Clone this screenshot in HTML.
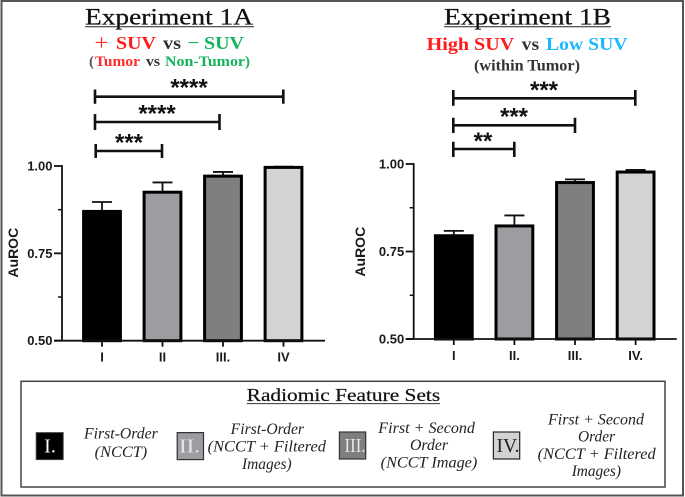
<!DOCTYPE html>
<html lang="en">
<head>
<meta charset="utf-8">
<title>Experiment 1A and 1B AuROC</title>
<style>
html,body{margin:0;padding:0;background:#fff;width:685px;height:497px;overflow:hidden}
svg{display:block;filter:blur(.35px)}
.serif{font-family:"Liberation Serif",serif}
.sans{font-family:"Liberation Sans",sans-serif}
.title{font-size:23px;fill:#111;stroke:#111;stroke-width:.25}
.sub{font-size:18px;font-weight:bold}
.sub2{font-size:15px;font-weight:bold}
.desc{font-size:15.5px;font-style:italic;fill:#222}
.tick{font-size:13px;font-weight:bold;fill:#1a1a1a}
.stars{font-size:24px;font-weight:bold;fill:#111;text-anchor:middle}
</style>
</head>
<body>
<svg id="figure" width="685" height="497" viewBox="0 0 685 497" xmlns="http://www.w3.org/2000/svg">
<rect x="1.5" y="1" width="681.5" height="494.5" fill="#fff" stroke="#555" stroke-width="2"/>

<g class="serif">
<text class="title" x="85" y="24.5" textLength="168" lengthAdjust="spacingAndGlyphs">Experiment 1A</text>
<line x1="85" x2="254" y1="26.8" y2="26.8" stroke="#222" stroke-width="1"/>
<text x="94.5" y="50" font-size="22" fill="#ff2a2a" textLength="14" lengthAdjust="spacingAndGlyphs">+</text>
<text class="sub" fill="#ff1a1a" x="116" y="49" textLength="40" lengthAdjust="spacingAndGlyphs">SUV</text>
<text class="sub" fill="#333" x="163" y="49" textLength="18" lengthAdjust="spacingAndGlyphs">vs</text>
<text x="187.5" y="50" font-size="22" fill="#14b35c" textLength="12" lengthAdjust="spacingAndGlyphs">−</text>
<text class="sub" fill="#14b35c" x="204" y="49" textLength="40" lengthAdjust="spacingAndGlyphs">SUV</text>
<text class="sub2" fill="#555" x="89" y="66">(</text>
<text class="sub2" fill="#ff2a2a" x="95" y="66" textLength="45" lengthAdjust="spacingAndGlyphs">Tumor</text>
<text class="sub2" fill="#333" x="146" y="66" textLength="14" lengthAdjust="spacingAndGlyphs">vs</text>
<text class="sub2" fill="#14b35c" x="165" y="66" textLength="80" lengthAdjust="spacingAndGlyphs">Non-Tumor</text>
<text class="sub2" fill="#14b35c" x="245" y="66">)</text>
</g>

<g class="serif">
<text class="title" x="444" y="24.5" textLength="167" lengthAdjust="spacingAndGlyphs">Experiment 1B</text>
<line x1="444" x2="611" y1="26.8" y2="26.8" stroke="#222" stroke-width="1"/>
<text class="sub" fill="#ff1a1a" x="426.7" y="50" textLength="87.5" lengthAdjust="spacingAndGlyphs">High SUV</text>
<text class="sub" fill="#333" x="521.7" y="50" textLength="17.5" lengthAdjust="spacingAndGlyphs">vs</text>
<text class="sub" fill="#1ab8ff" x="546" y="50" textLength="81.5" lengthAdjust="spacingAndGlyphs">Low SUV</text>
<text class="sub2" fill="#333" x="474" y="70.7" textLength="106" lengthAdjust="spacingAndGlyphs" style="font-size:16px">(within Tumor)</text>
</g>

<g stroke="#111" fill="none">
<path stroke-width="2.6" d="M95 96.7H283.3M95 89.5V103.7M283.3 89.5V103.7"/>
<path stroke-width="2.6" d="M95 122H219.5M95 114V130M219.5 114V130"/>
<path stroke-width="2.6" d="M95.7 151H162M95.7 144V158M162 144V158"/>
<text class="sans stars" stroke="none" x="189" y="95.5">****</text>
<text class="sans stars" stroke="none" x="157" y="121.5">****</text>
<text class="sans stars" stroke="none" x="129" y="150.5">***</text>
</g>

<g stroke="#111" fill="none">
<path stroke-width="2.6" d="M453.3 98.3H635.3M453.3 90V105.7M635.3 90V105.7"/>
<path stroke-width="2.6" d="M453.3 125.3H575M453.3 117.7V133M575 117.7V133"/>
<path stroke-width="2.6" d="M453.3 149H514.3M453.3 141.7V157M514.3 141.7V157"/>
<text class="sans stars" stroke="none" x="544" y="98.2">***</text>
<text class="sans stars" stroke="none" x="514" y="124.5">***</text>
<text class="sans stars" stroke="none" x="483" y="149.2">**</text>
</g>

<g id="chart-a"></g>
<g id="chart-b"></g>

<g class="serif">
<rect x="21" y="381.3" width="644" height="105.7" fill="#fff" stroke="#444" stroke-width="1.5"/>
<text x="246.7" y="401" font-size="18" fill="#111" stroke="#111" stroke-width=".2" textLength="193.5" lengthAdjust="spacingAndGlyphs">Radiomic Feature Sets</text>
<line x1="246.7" x2="440" y1="403.6" y2="403.6" stroke="#333" stroke-width="1"/>

<g>
<rect x="36.2" y="432.6" width="27" height="27" fill="#000" stroke="#444" stroke-width="1"/>
<text x="50" y="452.5" font-size="20" fill="#fff" text-anchor="middle">I.</text>
<text class="desc" x="84" y="438.7" textLength="73.7" lengthAdjust="spacingAndGlyphs">First-Order</text>
<text class="desc" x="94.7" y="457" textLength="52.5" lengthAdjust="spacingAndGlyphs">(NCCT)</text>
</g>

<g>
<rect x="177.2" y="432.6" width="26.3" height="27" fill="#9d9ca1" stroke="#333" stroke-width="1.2"/>
<text x="179" y="452.5" font-size="20" fill="#e8e8e8" textLength="21" lengthAdjust="spacingAndGlyphs">II.</text>
<text class="desc" x="230.7" y="434" textLength="73.3" lengthAdjust="spacingAndGlyphs">First-Order</text>
<text class="desc" x="207.7" y="451.7" textLength="118.3" lengthAdjust="spacingAndGlyphs">(NCCT + Filtered</text>
<text class="desc" x="242" y="469" textLength="49.7" lengthAdjust="spacingAndGlyphs">Images)</text>
</g>

<g>
<rect x="339.4" y="432" width="26.3" height="27" fill="#7f7f7f" stroke="#333" stroke-width="1.2"/>
<text x="344.5" y="452" font-size="20" fill="#e8e8e8" textLength="21" lengthAdjust="spacingAndGlyphs">III.</text>
<text class="desc" x="378.3" y="433" textLength="96.7" lengthAdjust="spacingAndGlyphs">First + Second</text>
<text class="desc" x="410" y="450" textLength="38" lengthAdjust="spacingAndGlyphs">Order</text>
<text class="desc" x="380.7" y="467.7" textLength="96.6" lengthAdjust="spacingAndGlyphs">(NCCT Image)</text>
</g>

<g>
<rect x="493.4" y="432" width="26.3" height="27" fill="#d3d3d3" stroke="#222" stroke-width="1.2"/>
<text x="496.5" y="452" font-size="20" fill="#222" textLength="23" lengthAdjust="spacingAndGlyphs">IV.</text>
<text class="desc" x="548" y="424.3" textLength="96" lengthAdjust="spacingAndGlyphs">First + Second</text>
<text class="desc" x="578" y="441.3" textLength="37" lengthAdjust="spacingAndGlyphs">Order</text>
<text class="desc" x="537.7" y="459" textLength="118" lengthAdjust="spacingAndGlyphs">(NCCT + Filtered</text>
<text class="desc" x="571.7" y="476" textLength="49.3" lengthAdjust="spacingAndGlyphs">Images)</text>
</g>
</g>
</svg>

<script>
const categoriesA = ['I', 'II', 'III.', 'IV'];
const valuesA = [0.870, 0.925, 0.971, 0.996];
const errorsA = [0.027, 0.028, 0.012, 0.002];
const categoriesB = ['I', 'II.', 'III.', 'IV.'];
const valuesB = [0.795, 0.823, 0.947, 0.977];
const errorsB = [0.014, 0.030, 0.009, 0.006];
const barColors = ['#000000', '#9d9ca1', '#7f7f7f', '#d3d3d3'];
const majorTicks = [0.5, 0.75, 1.0];
const minorTicks = [0.625, 0.875];
const tickLabels = ['0.50', '0.75', '1.00'];
const yAxisTitle = 'AuROC';

const NS = 'http://www.w3.org/2000/svg';

function add(parent, tag, attrs, text) {
  const el = document.createElementNS(NS, tag);
  for (const k in attrs) el.setAttribute(k, attrs[k]);
  if (text !== undefined) el.textContent = text;
  parent.appendChild(el);
  return el;
}

function drawChart(rootId, categories, values, errors, g) {
  const root = document.getElementById(rootId);
  const y = v => g.y0 - (v - 0.5) / 0.5 * g.yLen;
  const x = i => g.x0 + g.step * i;

  values.forEach((v, i) => {
    const cx = x(i);
    const errTop = y(v + errors[i]);
    const stem = add(root, 'line', {x1: cx, x2: cx, y1: y(v), y2: errTop, stroke: '#111', 'stroke-width': 1.8});
    
    
    const cap = add(root, 'line', {x1: cx - 10, x2: cx + 10, y1: errTop, y2: errTop, stroke: '#111', 'stroke-width': 1.8});
    
    
    const bar = add(root, 'rect', {x: cx - 18.4, y: y(v), width: 36.8, height: g.y0 - y(v), fill: barColors[i], stroke: '#000', 'stroke-width': 3});
    
    
    const tick = add(root, 'line', {x1: cx, x2: cx, y1: g.y0, y2: g.y0 + 6, stroke: '#111', 'stroke-width': 1.8});
    
    
    const label = add(root, 'text', {x: cx, y: g.y0 + 21, 'text-anchor': 'middle', class: 'sans tick'}, categories[i]);
    
    
  });

  const yAxis = add(root, 'line', {x1: g.axisX, x2: g.axisX, y1: y(1) - 0.9, y2: g.y0, stroke: '#111', 'stroke-width': 1.8});
  
  
  const xAxis = add(root, 'line', {x1: g.axisX - 8, x2: g.axisEnd, y1: g.y0, y2: g.y0, stroke: '#111', 'stroke-width': 1.8});
  
  

  majorTicks.forEach((t, i) => {
    const tick = add(root, 'line', {x1: g.axisX - 8, x2: g.axisX, y1: y(t), y2: y(t), stroke: '#111', 'stroke-width': 1.8});
    
    
    const label = add(root, 'text', {x: g.axisX - 9.5, y: y(t) + 4.5, 'text-anchor': 'end', class: 'sans tick'}, tickLabels[i]);
    
    
  });
  minorTicks.forEach(t => {
    const tick = add(root, 'line', {x1: g.axisX - 4, x2: g.axisX, y1: y(t), y2: y(t), stroke: '#111', 'stroke-width': 1.5});
    
    
  });

  const title = add(root, 'text', {
    transform: 'translate(' + g.titleX + ' ' + g.titleY + ') rotate(-90)',
    'text-anchor': 'middle',
    class: 'sans tick',
    style: 'font-size:14px'
  }, yAxisTitle);
  
  
}

drawChart('chart-a', categoriesA, valuesA, errorsA, {x0: 102, step: 60.5, y0: 340.7, yLen: 174.7, axisX: 62, axisEnd: 325, titleX: 18, titleY: 252.7});
drawChart('chart-b', categoriesB, valuesB, errorsB, {x0: 453.8, step: 60.6, y0: 339, yLen: 175, axisX: 413.7, axisEnd: 676.7, titleX: 365, titleY: 251.7});
</script>
</body>
</html>
